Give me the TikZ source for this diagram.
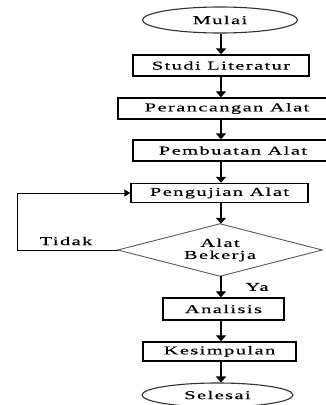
\documentclass[tikz,border=0pt]{standalone}
\usepackage{fontspec}
\setmainfont{Liberation Serif}[FakeStretch=1.7,LetterSpace=12,FakeBold=0.4]
\usetikzlibrary{shapes.geometric,arrows.meta}
\begin{document}
\begin{tikzpicture}[x=1pt,y=-1pt,
  every node/.style={font=\fontsize{12}{12}\selectfont, inner sep=0pt},
  procbox/.style={draw=black, line width=1.4pt, rectangle, align=center},
  term/.style={draw=black!80, line width=1.1pt, ellipse},
  decision/.style={rectangle, align=center},
  diamondline/.style={draw=black!65, line width=0.9pt},
  arr/.style={line width=1.6pt, -{Triangle[width=10pt,length=6pt]}},
  looparr/.style={line width=1pt, -{Triangle[width=7pt,length=6pt]}},
  lbl/.style={}
]
\useasboundingbox (0,0) rectangle (326,405);
\clip (0,0) rectangle (326,405);
\coordinate (ax) at (221,0);
\node[term, minimum width=155pt, minimum height=26pt] (start) at (220,20) {Mulai};
\node[procbox, minimum width=176pt, minimum height=21pt] (s1) at (221,65.5) {Studi Literatur};
\node[procbox, minimum width=218pt, minimum height=21pt] (s2) at (227,108.5) {Perancangan Alat};
\node[procbox, minimum width=200pt, minimum height=21pt] (s3) at (233,150.5) {Pembuatan Alat};
\node[procbox, minimum width=177pt, minimum height=19pt] (s4) at (219.5,193) {Pengujian Alat};
\node[decision, minimum width=204pt, minimum height=52pt] (dec) at (220,250) {Alat\\Bekerja};
\draw[diamondline] (dec.north) -- (dec.east) -- (dec.south) -- (dec.west) -- cycle;
\node[procbox, minimum width=121pt, minimum height=22pt] (s5) at (223.5,309) {Analisis};
\node[procbox, minimum width=153pt, minimum height=19pt] (s6) at (219.5,351.5) {Kesimpulan};
\node[term, minimum width=151pt, minimum height=24pt] (end) at (217.5,395) {Selesai};
\coordinate (lp) at (17,250);
\draw[arr] (start.south -| ax) -- (s1.north -| ax);
\draw[arr] (s1.south -| ax) -- (s2.north -| ax);
\draw[arr] (s2.south -| ax) -- (s3.north -| ax);
\draw[arr] (s3.south -| ax) -- (s4.north -| ax);
\draw[arr] (s4.south -| ax) -- (dec.north -| ax);
\draw[arr] (dec.south -| ax) -- (s5.north -| ax);
\draw[arr] (s5.south -| ax) -- (s6.north -| ax);
\draw[arr] (s6.south -| ax) -- (end.north -| ax);
\draw[looparr] (dec.west) -- (lp) |- (s4.west);
\node[lbl] (tidak) at (66,241) {Tidak};
\node[lbl] (ya) at (257,287) {Ya};
\end{tikzpicture}
\end{document}
